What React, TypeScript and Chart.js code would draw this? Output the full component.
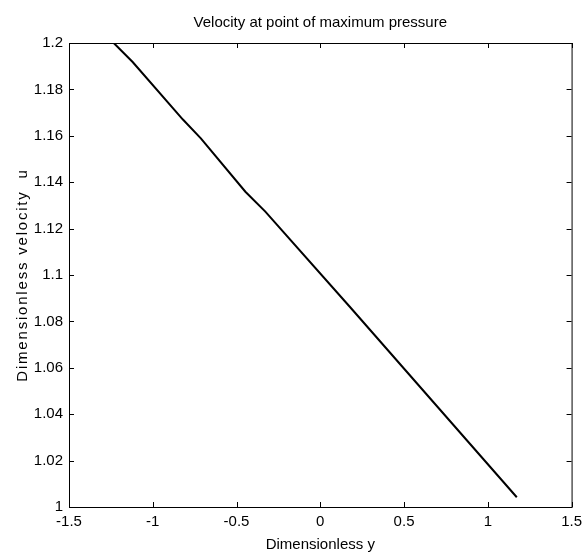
import React, { useEffect, useRef } from "react";
import { Chart, registerables } from "chart.js";

Chart.register(...registerables);

// Data
const yValues = [-1.233, -1.12, -0.82, -0.713, -0.447, -0.328, 0.176, 1.173];
const uValues = [1.2, 1.1918, 1.167, 1.1589, 1.1359, 1.1273, 1.0863, 1.0042];

const xTicks = [-1.5, -1, -0.5, 0, 0.5, 1, 1.5];
const yTicks = [1, 1.02, 1.04, 1.06, 1.08, 1.1, 1.12, 1.14, 1.16, 1.18, 1.2];

const titleText = "Velocity at point of maximum pressure";
const xLabel = "Dimensionless y";
const yLabel = "Dimensionless velocity  u";

const FONT = "'Liberation Sans', Arial, Helvetica, sans-serif";

const fmt = (v: number) => String(Number(Number(v).toFixed(2)));

const framePlugin = {
  id: "matlabFrame",
  afterDraw(chart: any) {
    const { ctx, chartArea } = chart;
    const { left, right, top, bottom } = chartArea;
    const xs = chart.scales.x;
    const ys = chart.scales.y;
    ctx.save();
    ctx.strokeStyle = "#000";
    ctx.lineWidth = 1;
    ctx.strokeRect(left + 0.5, top + 0.5, right - left, bottom - top);
    const tl = 5;
    ctx.beginPath();
    for (const v of xTicks) {
      const px = Math.round(xs.getPixelForValue(v)) + 0.5;
      ctx.moveTo(px, bottom);
      ctx.lineTo(px, bottom - tl);
      ctx.moveTo(px, top);
      ctx.lineTo(px, top + tl);
    }
    for (const v of yTicks) {
      const py = Math.round(ys.getPixelForValue(v)) + 0.5;
      ctx.moveTo(left, py);
      ctx.lineTo(left + tl, py);
      ctx.moveTo(right, py);
      ctx.lineTo(right - tl, py);
    }
    ctx.stroke();

    // y-axis label
    ctx.fillStyle = "#000";
    ctx.font = `15px ${FONT}`;
    try {
      (ctx as any).letterSpacing = "1.8px";
    } catch (e) {}
    ctx.textAlign = "center";
    ctx.textBaseline = "alphabetic";
    ctx.translate(27, (top + bottom) / 2);
    ctx.rotate(-Math.PI / 2);
    ctx.fillText(yLabel, 0, 0);
    ctx.restore();
  },
};

export default function App() {
  const ref = useRef<HTMLCanvasElement | null>(null);

  useEffect(() => {
    if (!ref.current) return;
    const chart = new Chart(ref.current, {
      type: "line",
      data: {
        datasets: [
          {
            data: yValues.map((x, i) => ({ x, y: uValues[i] })),
            borderColor: "#000",
            borderWidth: 2,
            pointRadius: 0,
            fill: false,
            tension: 0,
          },
        ],
      },
      options: {
        responsive: false,
        animation: false,
        layout: { padding: { left: 0, right: 13, top: 0, bottom: 0 } },
        plugins: {
          legend: { display: false },
          tooltip: { enabled: false },
          title: {
            display: true,
            fullSize: false,
            text: titleText,
            color: "#000",
            font: { family: FONT, size: 15, weight: "normal", lineHeight: 1.2 },
            padding: { top: 14, bottom: 11 },
          },
        },
        scales: {
          x: {
            type: "linear",
            min: -1.5,
            max: 1.5,
            grid: { display: false, drawTicks: false },
            border: { display: false },
            afterBuildTicks: (s: any) => {
              s.ticks = xTicks.map((v) => ({ value: v }));
            },
            afterFit: (s: any) => {
              s.height = 45;
            },
            ticks: {
              color: "#000",
              padding: 6,
              maxRotation: 0,
              autoSkip: false,
              font: { family: FONT, size: 15 },
              callback: (v: any) => fmt(v),
            },
            title: {
              display: true,
              text: xLabel,
              color: "#000",
              font: { family: FONT, size: 15, lineHeight: 1 },
              padding: { top: 0, bottom: 0 },
            },
          },
          y: {
            type: "linear",
            min: 1,
            max: 1.2,
            grid: { display: false, drawTicks: false },
            border: { display: false },
            afterBuildTicks: (s: any) => {
              s.ticks = yTicks.map((v) => ({ value: v }));
            },
            afterFit: (s: any) => {
              s.width = 69;
            },
            ticks: {
              color: "#000",
              padding: 6,
              autoSkip: false,
              font: { family: FONT, size: 15 },
              callback: (v: any) => fmt(v),
            },
          },
        },
      },
      plugins: [framePlugin],
    } as any);
    return () => chart.destroy();
  }, []);

  return (
    <div style={{ position: "fixed", left: 0, top: 0, width: 588, height: 552, background: "#fff" }}>
      <canvas ref={ref} width={588} height={552} style={{ display: "block", width: 588, height: 552 }} />
    </div>
  );
}
